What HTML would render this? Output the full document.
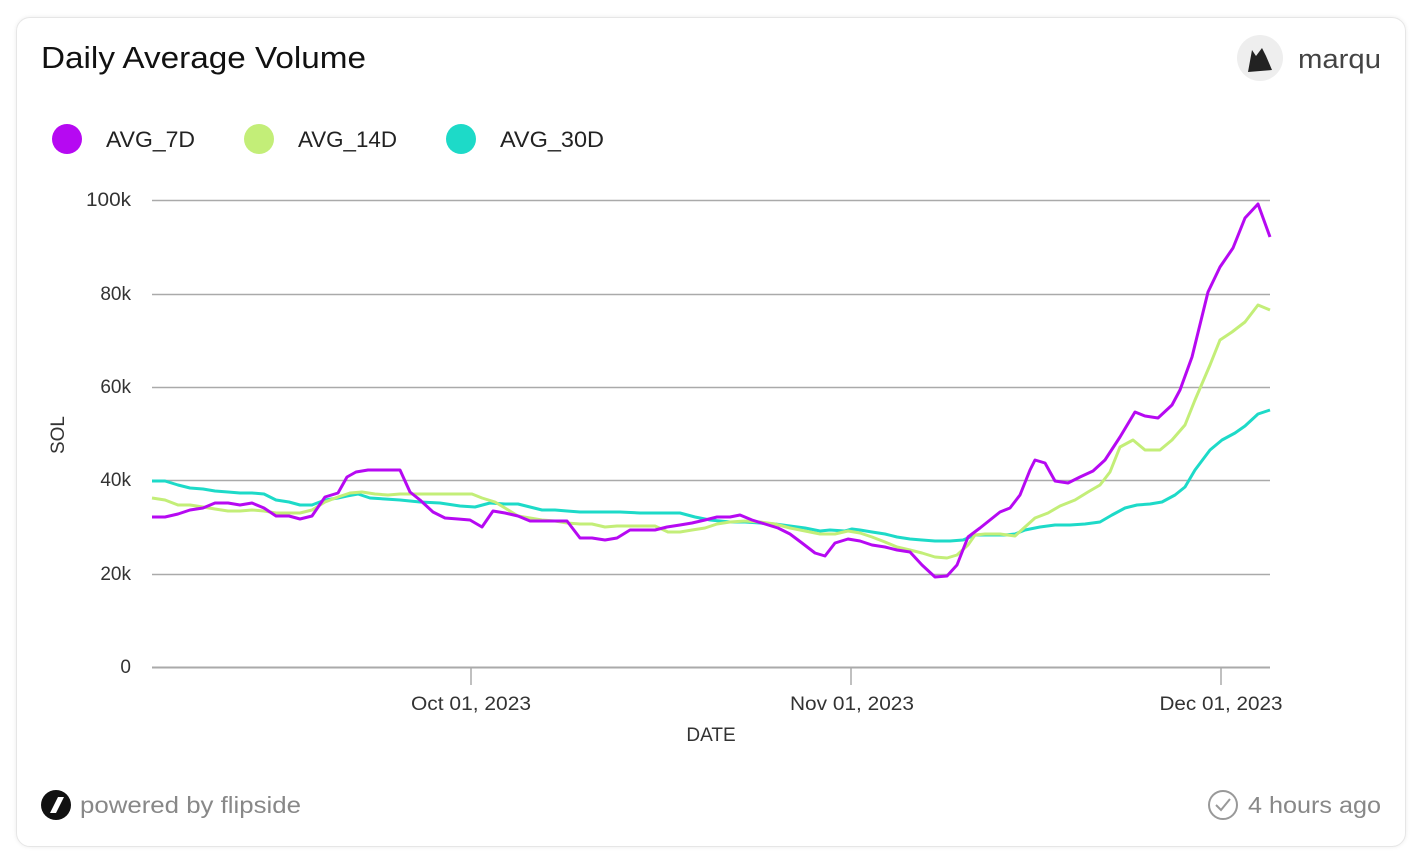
<!DOCTYPE html>
<html><head><meta charset="utf-8"><style>
body{margin:0;background:#fff;width:1410px;height:860px;overflow:hidden;font-family:"Liberation Sans",sans-serif;}
.card{position:absolute;left:16px;top:17px;width:1388px;height:828px;border:1px solid #e6e6e6;border-radius:14px;box-shadow:0 0 4px rgba(0,0,0,0.08);}
</style></head><body>
<div class="card"></div>
<svg width="1410" height="860" style="position:absolute;left:0;top:0" font-family="Liberation Sans, sans-serif">
<text x="41" y="68" font-size="31" fill="#111" textLength="325" lengthAdjust="spacingAndGlyphs">Daily Average Volume</text>
<circle cx="1260" cy="58" r="23" fill="#eee"/>
<path d="M1248 72 L1252 50 L1256 56 L1262 48 L1266 56 L1272 70 Z" fill="#222"/>
<text x="1298" y="68" font-size="27" fill="#444" textLength="83" lengthAdjust="spacingAndGlyphs">marqu</text>
<circle cx="67" cy="139" r="15" fill="#b609f2"/>
<text x="106" y="147" font-size="22" fill="#222" textLength="89" lengthAdjust="spacingAndGlyphs">AVG_7D</text>
<circle cx="259" cy="139" r="15" fill="#c3ee78"/>
<text x="298" y="147" font-size="22" fill="#222" textLength="99" lengthAdjust="spacingAndGlyphs">AVG_14D</text>
<circle cx="461" cy="139" r="15" fill="#1ddac8"/>
<text x="500" y="147" font-size="22" fill="#222" textLength="104" lengthAdjust="spacingAndGlyphs">AVG_30D</text>
<g stroke="#aaa" stroke-width="1.5">
<line x1="152" y1="200.5" x2="1270" y2="200.5"/><line x1="152" y1="294.5" x2="1270" y2="294.5"/>
<line x1="152" y1="387.5" x2="1270" y2="387.5"/><line x1="152" y1="480.5" x2="1270" y2="480.5"/>
<line x1="152" y1="574.5" x2="1270" y2="574.5"/><line x1="152" y1="667.5" x2="1270" y2="667.5" stroke-width="2"/>
<line x1="471" y1="667" x2="471" y2="685"/><line x1="851" y1="667" x2="851" y2="685"/><line x1="1221" y1="667" x2="1221" y2="685"/>
</g>
<g font-size="19" fill="#333" text-anchor="end">
<text x="131" y="206" textLength="45" lengthAdjust="spacingAndGlyphs">100k</text><text x="131" y="300">80k</text><text x="131" y="393">60k</text>
<text x="131" y="486">40k</text><text x="131" y="580">20k</text><text x="131" y="673">0</text>
</g>
<g font-size="19" fill="#333" text-anchor="middle">
<text x="471" y="710" textLength="120" lengthAdjust="spacingAndGlyphs">Oct 01, 2023</text><text x="852" y="710" textLength="124" lengthAdjust="spacingAndGlyphs">Nov 01, 2023</text><text x="1221" y="710" textLength="123" lengthAdjust="spacingAndGlyphs">Dec 01, 2023</text>
<text x="711" y="741">DATE</text>
<text transform="translate(64,435) rotate(-90)">SOL</text>
</g>
<g fill="none" stroke-width="3" stroke-linejoin="round">
<polyline stroke="#1ddac8" points="152,481 165,481 178,485 190,488 203,489 215,491 228,492 240,493 252,493 264,494 276,500 289,502 300,505 312,505 325,500 338,498 347,496 358,494 370,498 385,499 400,500 420,502 440,503 460,506 475,507 490,503 505,504 518,504 530,507 542,510 555,510 567,511 580,512 600,512 620,512 640,513 660,513 680,513 695,517 710,520 730,522 745,522 760,523 775,524 790,526 805,528 820,531 830,530 845,531 852,529 860,530 872,532 885,534 897,537 910,539 922,540 935,541 950,541 963,540 975,535 990,535 1005,535 1015,534 1025,530 1040,527 1055,525 1070,525 1085,524 1100,522 1112,515 1125,508 1137,505 1150,504 1162,502 1175,495 1185,487 1195,470 1210,450 1222,440 1235,433 1245,426 1258,414 1270,410"/>
<polyline stroke="#c3ee78" points="152,498 165,500 178,505 190,505 203,507 215,509 228,511 240,511 252,510 264,511 276,513 289,513 300,513 312,510 325,502 338,497 350,493 362,492 375,494 388,495 400,494 420,494 440,494 460,494 472,494 482,498 495,502 505,508 518,516 530,518 542,520 555,521 567,523 580,524 592,524 605,527 617,526 630,526 642,526 655,526 668,532 680,532 692,530 705,528 717,524 730,522 745,521 760,522 775,524 790,528 805,531 820,534 835,534 848,531 860,533 872,537 885,542 897,547 910,550 922,553 935,557 947,558 957,555 968,545 975,535 985,534 1000,534 1015,536 1025,527 1035,518 1048,513 1060,506 1075,500 1088,492 1100,485 1110,472 1120,447 1133,440 1145,450 1160,450 1172,440 1185,425 1195,400 1210,365 1220,340 1232,332 1245,322 1258,305 1270,310"/>
<polyline stroke="#b609f2" points="152,517 165,517 178,514 190,510 203,508 215,503 228,503 240,505 252,503 264,508 276,516 289,516 300,519 312,516 325,497 338,493 347,477 356,472 368,470 380,470 392,470 400,470 410,492 420,500 433,512 445,518 458,519 470,520 482,527 493,511 505,513 518,516 530,521 542,521 555,521 567,521 580,538 592,538 605,540 617,538 630,530 642,530 655,530 667,527 680,525 692,523 705,520 717,517 730,517 740,515 752,520 765,524 778,528 790,534 802,543 815,553 825,556 835,543 848,539 860,541 872,545 885,547 897,550 910,552 922,565 935,577 947,576 957,565 968,537 980,528 990,520 1000,512 1010,508 1020,495 1030,470 1035,460 1045,463 1055,481 1068,483 1080,477 1093,471 1105,460 1120,437 1135,412 1145,416 1158,418 1172,405 1180,390 1192,357 1208,292 1220,267 1233,248 1245,218 1258,204 1270,237"/>
</g>
<circle cx="56" cy="805" r="15" fill="#111"/>
<path d="M50 813 L58 797 L64 797 L56 813 Z" fill="#fff"/>
<text x="80" y="813" font-size="23" fill="#888" textLength="221" lengthAdjust="spacingAndGlyphs">powered by flipside</text>
<circle cx="1223" cy="805" r="14" fill="none" stroke="#999" stroke-width="2"/>
<polyline points="1216,805 1221,810 1230,799" fill="none" stroke="#999" stroke-width="2"/>
<text x="1381" y="813" font-size="23" fill="#888" text-anchor="end" textLength="133" lengthAdjust="spacingAndGlyphs">4 hours ago</text>
</svg>
</body></html>
